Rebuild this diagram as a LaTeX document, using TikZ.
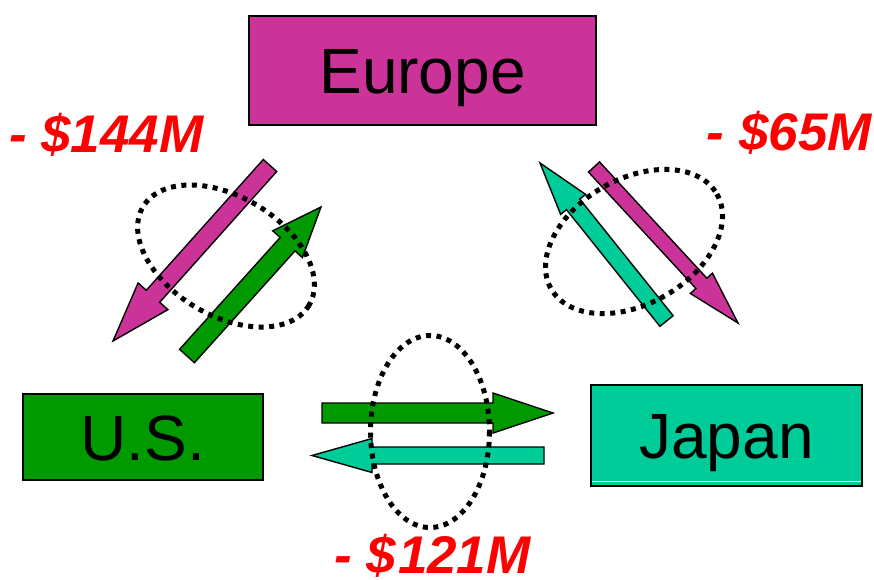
\documentclass[tikz,border=0pt]{standalone}
\usepackage{fontspec}
\setmainfont{Liberation Sans}
\usetikzlibrary{calc}
\definecolor{eumag}{HTML}{CC3399}
\definecolor{usgreen}{HTML}{009900}
\definecolor{jpteal}{HTML}{00CC99}
\definecolor{lossred}{HTML}{FF0000}
\newcommand\blkarrow[6]{%
  \coordinate (ba-T) at #2;
  \coordinate (ba-P) at #3;
  \coordinate (ba-B) at ($(ba-P)!#6!(ba-T)$);
  \draw[#1] ($(ba-T)!#4!90:(ba-P)$) -- ($(ba-B)!#4!90:(ba-P)$) -- ($(ba-B)!#5!90:(ba-P)$) -- (ba-P) -- ($(ba-B)!#5!-90:(ba-P)$) -- ($(ba-B)!#4!-90:(ba-P)$) -- ($(ba-T)!#4!-90:(ba-P)$) -- cycle;}
\tikzset{
  region/.style={draw=black, line width=1.6pt, inner sep=0pt, text height=46pt, text depth=0pt, font=\fontsize{64}{70}\selectfont},
  flowarrow/.style={draw=black, line width=1.4pt, line join=miter},
  lossbox/.style={inner sep=0pt, text=lossred, font=\fontsize{53}{58}\selectfont\bfseries\itshape},
  tradeloop/.style={draw=black, line width=5pt, dash pattern=on 5pt off 5.5pt}
}
\begin{document}
\begin{tikzpicture}[x=1pt,y=-1pt]
\useasboundingbox (0,0) rectangle (874,579);
% regions
\node[region, fill=eumag, minimum width=347pt, minimum height=109pt] (eu) at (422.5,70.5) {Europe};
\node[region, fill=usgreen, minimum width=240pt, minimum height=86pt] (us) at (143,437) {U.S.};
\node[region, fill=jpteal, minimum width=271pt, minimum height=101pt] (jp) at (726.5,435.5) {Japan};
\draw[white, line width=1pt] ($(jp.south west)+(2,-5)$) -- ($(jp.south east)+(-2,-5)$);
% arrows
\blkarrow{flowarrow, fill=eumag}{(270,165.5)}{(113,341)}{9pt}{20pt}{60pt}
\blkarrow{flowarrow, fill=usgreen}{(187,356)}{(321,207)}{10pt}{20pt}{50pt}
\blkarrow{flowarrow, fill=jpteal}{(666.5,321)}{(540,163)}{8.5pt}{16pt}{53pt}
\blkarrow{flowarrow, fill=eumag}{(594,167)}{(738,323)}{7.5pt}{15pt}{54pt}
\blkarrow{flowarrow, fill=usgreen}{(322,413)}{(553,413)}{10pt}{20pt}{60pt}
\blkarrow{flowarrow, fill=jpteal}{(544,455.5)}{(312,455.5)}{8.5pt}{17pt}{60pt}
% loops
\draw[tradeloop, rotate around={-30.7:(226,256)}] (226,256) ellipse [x radius=96.5, y radius=59.5];
\draw[tradeloop, rotate around={29.8:(634,241.5)}] (634,241.5) ellipse [x radius=95.5, y radius=62.5];
\draw[tradeloop] (430,431.5) ellipse [x radius=59.5, y radius=96];
% labels
\node[lossbox, anchor=base west] (l1) at (9,152) {- \$144M};
\node[lossbox, anchor=base east] (l2) at (872,150) {- \$65M};
\node[lossbox, anchor=base west] (l3) at (334,573) {- \$\kern2pt121M};
\end{tikzpicture}
\end{document}
